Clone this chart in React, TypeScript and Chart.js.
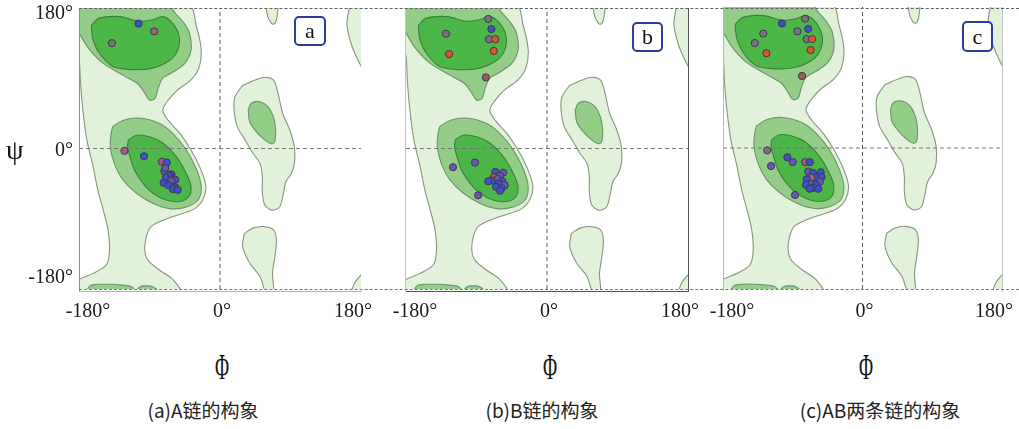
import React, { useEffect, useRef } from "react";
import { Chart, registerables } from "chart.js";

Chart.register(...registerables);

type Pair = [number, number];

// ---------- text ----------
const tickValues = [-180, 0, 180];
const tickLabels = ["-180°", "0°", "180°"];
const panelTags = ["a", "b", "c"];
const captions = ["(a)A链的构象", "(b)B链的构象", "(c)AB两条链的构象"];
const yAxisSymbol = "ψ";
const xAxisSymbol = "Φ";

// ---------- contour regions (phi, psi) ----------
const lightMain: Pair[] = [
  [-185, 185], [-41, 185], [-30, 156], [-24, 126], [-27, 103], [-37, 88], [-54, 75], [-66, 62],
  [-73, 49], [-66, 36], [-51, 19], [-37, -2], [-24, -28], [-18, -49], [-22, -66], [-32, -77],
  [-47, -83], [-73, -92], [-88, -100], [-94, -113], [-96, -130], [-92, -143], [-77, -156],
  [-60, -168], [-51, -185], [-185, -185], [-185, -171], [-162, -160], [-145, -149], [-141, -130],
  [-143, -104], [-149, -79], [-156, -53], [-162, -23], [-170, 11], [-175, 49], [-178, 83],
  [-180, 118], [-185, 140],
];
const lightLeftHelix: Pair[] = [
  [29, 81], [55, 91], [68, 88], [74, 71], [80, 45], [89, 24], [95, 2], [95, -19], [91, -32],
  [84, -43], [81, -57], [76, -75], [66, -79], [57, -72], [54, -55], [54, -36], [51, -19],
  [42, -6], [32, 11], [22, 28], [18, 49], [19, 66],
];
const lightTopBlob: Pair[] = [[58, 185], [61, 169], [66, 160], [70, 160], [73, 170], [73, 185]];
const lightBottomBlob: Pair[] = [
  [31, -109], [42, -102], [55, -100], [68, -104], [72, -117], [70, -139], [67, -160], [68, -185],
  [59, -185], [51, -164], [38, -147], [29, -126],
];
const lightRightTop: Pair[] = [[166, 185], [162, 160], [166, 139], [172, 122], [181, 104], [185, 100], [185, 185]];
const lightRightBottom: Pair[] = [[167, -185], [172, -172], [180, -162], [185, -158], [185, -185]];

const mediumBeta: Pair[] = [
  [-185, 185], [-62, 185], [-60, 177], [-47, 162], [-39, 148], [-37, 126], [-45, 109], [-60, 98],
  [-73, 90], [-79, 77], [-83, 64], [-90, 62], [-96, 71], [-105, 83], [-124, 94], [-149, 109],
  [-166, 126], [-177, 143], [-185, 160],
];
const mediumAlpha: Pair[] = [
  [-137, 28], [-124, 36], [-103, 39], [-77, 32], [-60, 19], [-43, -2], [-30, -27], [-24, -49],
  [-28, -66], [-43, -75], [-64, -77], [-86, -70], [-107, -57], [-124, -40], [-135, -19],
  [-140, 2], [-139, 19],
];
const mediumLeftHelix: Pair[] = [
  [36, 49], [40, 58], [51, 60], [61, 54], [68, 41], [71, 24], [70, 9], [66, 6], [57, 11],
  [46, 22], [38, 34],
];
const mediumBottomA: Pair[] = [[-172, -185], [-166, -176], [-155, -174], [-140, -174], [-125, -175], [-113, -177], [-108, -185]];
const mediumBottomB: Pair[] = [[-109, -185], [-102, -177], [-94, -176], [-86, -177], [-77, -185]];

const darkBeta: Pair[] = [
  [-164, 158], [-154, 167], [-128, 169], [-103, 163], [-86, 165], [-73, 169], [-60, 160],
  [-52, 143], [-54, 126], [-64, 113], [-86, 103], [-111, 101], [-137, 105], [-154, 122],
  [-162, 139], [-164, 152],
];
const darkAlpha: Pair[] = [
  [-117, 11], [-107, 17], [-90, 15], [-73, 7], [-56, -10], [-43, -32], [-37, -49], [-40, -62],
  [-52, -68], [-69, -66], [-86, -57], [-98, -45], [-109, -28], [-115, -10], [-118, 2],
];

// ---------- residues: [phi, psi, kind] ----------
// kind: 0 blue, 1 violet, 2 mauve, 3 grey, 4 red, 5 brown-red
const pointsA: number[][] = [
  [-104, 160, 0], [-84, 150, 2], [-138, 135, 3], [-122, -3, 2], [-97, -10, 0],
  [-74, -17, 2], [-68, -18, 0], [-71, -29, 1], [-70, -25, 1], [-62, -33, 0], [-64, -34, 0],
  [-66, -35, 1], [-69, -37, 0], [-63, -40, 1], [-57, -40, 0], [-72, -44, 0], [-62, -42, 1],
  [-66, -47, 0], [-59, -49, 1], [-57, -50, 0], [-60, -52, 0], [-54, -53, 0],
];
const pointsB: number[][] = [
  [-75, 166, 3], [-71, 153, 0], [-74, 140, 3], [-66, 140, 4], [-68, 125, 4], [-129, 147, 3],
  [-125, 121, 4], [-78, 91, 5],
  [-120, -24, 1], [-92, -18, 1], [-88, -60, 1],
  [-66, -30, 0], [-56, -31, 1], [-60, -35, 1], [-68, -37, 4], [-63, -39, 1], [-71, -41, 0],
  [-75, -42, 0], [-57, -42, 0], [-62, -45, 0], [-54, -47, 1], [-65, -49, 0], [-58, -51, 0],
  [-60, -54, 0],
];
const pointsC: number[][] = [
  [-104, 159, 0], [-128, 146, 3], [-139, 134, 3], [-124, 121, 4], [-74, 165, 3], [-84, 149, 3],
  [-70, 152, 0], [-72, 139, 3], [-65, 139, 4], [-67, 125, 4], [-78, 92, 5],
  [-123, -3, 3], [-118, -23, 1], [-97, -12, 0], [-90, -18, 1], [-74, -18, 2], [-68, -18, 0],
  [-87, -60, 1],
  [-70, -30, 1], [-64, -32, 0], [-54, -31, 0], [-59, -37, 0], [-53, -37, 0], [-66, -38, 2],
  [-72, -40, 0], [-55, -43, 1], [-67, -46, 1], [-73, -47, 0], [-60, -47, 0], [-64, -51, 0],
  [-57, -52, 0], [-68, -52, 0],
];

// ---------- styles ----------
const FILL: Record<string, string> = { light: "#e2f1da", medium: "#93cd87", dark: "#4db649" };
const STROKE: Record<string, string> = { light: "#86967f", medium: "#68946a", dark: "#3c803c" };
const ORDER: Record<string, number> = { light: 30, medium: 20, dark: 10 };
const KIND_COLORS = ["#3d4fcb", "#6a55b4", "#a65a88", "#7a7279", "#e2512c", "#9a5a5c"];

const regions: { pts: Pair[]; level: string }[] = [
  { pts: lightMain, level: "light" },
  { pts: lightLeftHelix, level: "light" },
  { pts: lightTopBlob, level: "light" },
  { pts: lightBottomBlob, level: "light" },
  { pts: lightRightTop, level: "light" },
  { pts: lightRightBottom, level: "light" },
  { pts: mediumBeta, level: "medium" },
  { pts: mediumAlpha, level: "medium" },
  { pts: mediumLeftHelix, level: "medium" },
  { pts: mediumBottomA, level: "medium" },
  { pts: mediumBottomB, level: "medium" },
  { pts: darkBeta, level: "dark" },
  { pts: darkAlpha, level: "dark" },
];

const CANVAS_H = 330;

const PANELS = [
  {
    points: pointsA, canvasLeft: 0, canvasWidth: 400,
    pad: { left: 79, right: 39, top: 8, bottom: 41 }, yTicks: true,
    frame: [
      { side: "left", color: "#8c8c8c", offset: 0 },
      { side: "bottom", color: "#b4b4b4", offset: 2 },
    ],
    tagBox: { left: 294, top: 16, w: 32, h: 30 }, phiX: 222, captionX: 203,
  },
  {
    points: pointsB, canvasLeft: 380, canvasWidth: 330,
    pad: { left: 26, right: 22, top: 8, bottom: 41 }, yTicks: false,
    frame: [
      { side: "left", color: "#c4c4c4", offset: 1 },
      { side: "right", color: "#555555", offset: 0 },
      { side: "bottom", color: "#555555", offset: 2 },
    ],
    tagBox: { left: 632, top: 22, w: 31, h: 30 }, phiX: 550, captionX: 542,
  },
  {
    points: pointsC, canvasLeft: 700, canvasWidth: 319,
    pad: { left: 23, right: 17, top: 7, bottom: 41 }, yTicks: false,
    frame: [
      { side: "left", color: "#b8b8b8", offset: 0 },
      { side: "right", color: "#c4c4c4", offset: 0 },
    ],
    tagBox: { left: 962, top: 21, w: 31, h: 31 }, phiX: 866, captionX: 880,
  },
];

const ramaPlugin = {
  id: "rama",
  afterDraw(chart: any, _args: any, opts: any) {
    const { ctx, chartArea: a, scales } = chart;
    ctx.save();
    ctx.setLineDash([]);
    (opts.frame || []).forEach((f: any) => {
      ctx.strokeStyle = f.color;
      ctx.lineWidth = 1;
      ctx.beginPath();
      const o = f.offset || 0;
      if (f.side === "left") {
        ctx.moveTo(Math.round(a.left) - o + 0.5, a.top);
        ctx.lineTo(Math.round(a.left) - o + 0.5, a.bottom + 2);
      } else if (f.side === "right") {
        ctx.moveTo(Math.round(a.right) + o + 0.5, a.top);
        ctx.lineTo(Math.round(a.right) + o + 0.5, a.bottom + 3);
      } else {
        ctx.moveTo(a.left, Math.round(a.bottom) + o + 0.5);
        ctx.lineTo(a.right + 1, Math.round(a.bottom) + o + 0.5);
      }
      ctx.stroke();
    });
    ctx.fillStyle = "#1c1c1c";
    ctx.font = '20px "Liberation Serif"';
    ctx.textBaseline = "middle";
    ctx.textAlign = "center";
    tickValues.forEach((v, i) => {
      const nudge = v === -180 ? 9 : v === 180 ? -8 : 2;
      ctx.fillText(tickLabels[i], scales.x.getPixelForValue(v) + nudge, a.bottom + 23);
    });
    if (opts.yTicks) {
      ctx.textAlign = "right";
      tickValues.forEach((v, i) => {
        const nudge = v === 180 ? 6 : v === -180 ? -11 : 2;
        ctx.fillText(tickLabels[i], a.left - 6, scales.y.getPixelForValue(v) + nudge);
      });
    }
    ctx.restore();
  },
};

function toXY(pts: Pair[]) {
  return pts.map((p) => ({ x: p[0], y: p[1] }));
}

function Panel({ cfg }: { cfg: any }) {
  const ref = useRef<HTMLCanvasElement>(null);
  useEffect(() => {
    if (!ref.current) return;
    const datasets: any[] = [];
    datasets.push({
      type: "scatter",
      data: cfg.points.map((p: number[]) => ({ x: p[0], y: p[1] })),
      pointRadius: 3.6,
      pointBackgroundColor: cfg.points.map((p: number[]) => KIND_COLORS[p[2]]),
      pointBorderColor: "#3a3a4a",
      pointBorderWidth: 1,
      order: 0,
    });
    datasets.push({
      type: "line",
      data: [{ x: -180, y: 0 }, { x: 180, y: 0 }],
      borderColor: "#777777", borderWidth: 1, borderDash: [4, 3],
      pointRadius: 0, fill: false, order: 2,
    });
    datasets.push({
      type: "line",
      data: [{ x: 0, y: -180 }, { x: 0, y: 180 }],
      borderColor: "#5a5a5a", borderWidth: 1, borderDash: [4, 3],
      pointRadius: 0, fill: false, order: 2,
    });
    regions.forEach((r) => {
      const closed = [...r.pts, r.pts[0]];
      datasets.push({
        type: "line",
        data: toXY(closed),
        fill: "shape",
        backgroundColor: FILL[r.level],
        borderColor: STROKE[r.level],
        borderWidth: 1.1,
        pointRadius: 0,
        tension: 0.32,
        order: ORDER[r.level],
      });
    });
    const chart = new Chart(ref.current, {
      type: "scatter",
      data: { datasets },
      plugins: [ramaPlugin as any],
      options: {
        responsive: false,
        animation: false,
        events: [],
        layout: { padding: cfg.pad },
        scales: {
          x: { type: "linear", min: -180, max: 180, display: false },
          y: { type: "linear", min: -180, max: 180, display: false },
        },
        plugins: {
          legend: { display: false },
          tooltip: { enabled: false },
          rama: { frame: cfg.frame, yTicks: cfg.yTicks },
        } as any,
      },
    } as any);
    return () => chart.destroy();
  }, [cfg]);
  return (
    <canvas
      ref={ref}
      width={cfg.canvasWidth}
      height={CANVAS_H}
      style={{ position: "absolute", left: cfg.canvasLeft, top: 0, width: cfg.canvasWidth, height: CANVAS_H }}
    />
  );
}

export default function App() {
  return (
    <div style={{ position: "absolute", left: 0, top: 0, width: 1019, height: 429, background: "#ffffff", overflow: "hidden" }}>
      {PANELS.map((p, i) => (
        <Panel key={i} cfg={p} />
      ))}
      <div style={{ position: "absolute", left: 79, top: 8, width: 940, height: 0, borderTop: "1px dashed #5e5e5e" }} />
      <div style={{ position: "absolute", left: 79, top: 289, width: 940, height: 0, borderTop: "1px dashed #777" }} />
      {PANELS.map((p, i) => (
        <div
          key={"tag" + i}
          style={{
            position: "absolute", left: p.tagBox.left, top: p.tagBox.top, width: p.tagBox.w - 4, height: p.tagBox.h - 4,
            border: "2px solid #2b3c9e", borderRadius: 5, background: "#fff",
            font: '22px "Liberation Serif"', color: "#111", display: "flex", alignItems: "center", justifyContent: "center",
            lineHeight: 1,
          }}
        >
          {panelTags[i]}
        </div>
      ))}
      <div style={{ position: "absolute", left: 6, top: 136, font: '28px "Liberation Serif"', color: "#111", lineHeight: 1 }}>
        {yAxisSymbol}
      </div>
      {PANELS.map((p, i) => (
        <div
          key={"phi" + i}
          style={{
            position: "absolute", left: p.phiX - 20, width: 40, top: 350, textAlign: "center",
            font: '35px "Liberation Serif"', color: "#111", lineHeight: 1, transform: "scaleX(0.55)",
          }}
        >
          {xAxisSymbol}
        </div>
      ))}
      {PANELS.map((p, i) => (
        <div
          key={"cap" + i}
          style={{
            position: "absolute", left: p.captionX - 120, width: 240, top: 399, textAlign: "center",
            font: '19px "Noto Sans CJK SC"', color: "#222", lineHeight: 1.2, whiteSpace: "nowrap",
          }}
        >
          {captions[i]}
        </div>
      ))}
    </div>
  );
}
